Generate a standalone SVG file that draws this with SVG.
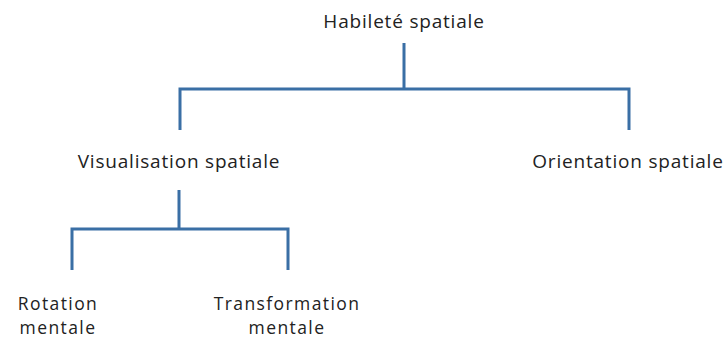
<svg xmlns="http://www.w3.org/2000/svg" width="726" height="338" viewBox="0 0 726 338">
<style>
text{font-family:"Open Sans","Liberation Sans",sans-serif;font-size:19px;letter-spacing:0.8px;fill:#222;text-anchor:middle}
.s{font-size:17.5px;letter-spacing:1.4px}
.c{fill:none;stroke:#3a6fa5;stroke-width:3}
</style>
<rect width="726" height="338" fill="#fff"/>
<g id="connectors">
<path class="c" d="M404 43V89M180 130V89H629V130"/>
<path class="c" d="M179 190V229M72 270V229H288V270"/>
</g>
<g id="habilete"><text x="404" y="28">Habileté spatiale</text></g>
<g id="visualisation"><text x="179" y="168">Visualisation spatiale</text></g>
<g id="orientation"><text x="628" y="168">Orientation spatiale</text></g>
<g id="rotation"><text class="s" x="58" y="310">Rotation</text><text class="s" x="58" y="334">mentale</text></g>
<g id="transformation"><text class="s" x="287" y="310">Transformation</text><text class="s" x="287" y="334">mentale</text></g>
</svg>
